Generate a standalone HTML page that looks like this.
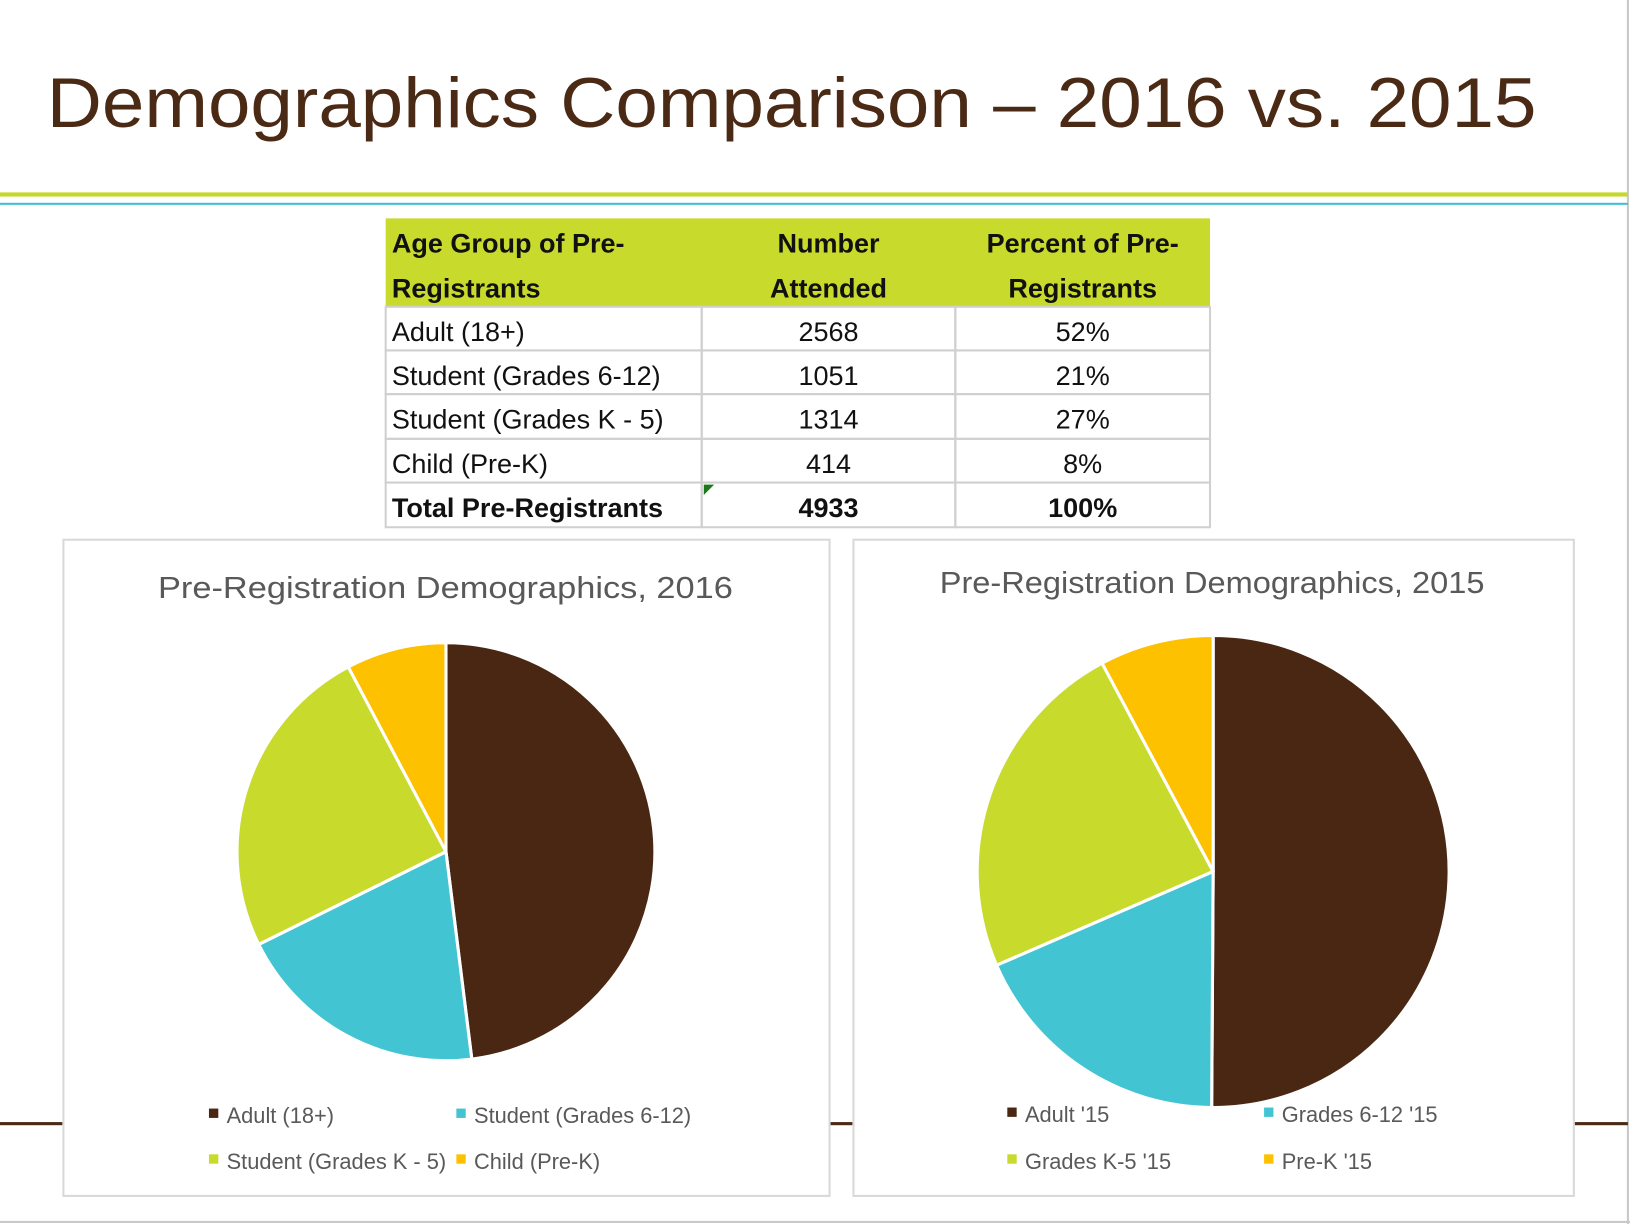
<!DOCTYPE html>
<html><head><meta charset="utf-8"><style>
html,body{margin:0;padding:0;background:#fff;width:1630px;height:1224px;overflow:hidden}
svg{display:block}
text{font-family:"Liberation Sans",sans-serif}
</style></head><body>
<svg id="page" width="1630" height="1224" viewBox="0 0 1568 1177" preserveAspectRatio="none" xmlns="http://www.w3.org/2000/svg">
<rect x="0" y="0" width="1568" height="1177" fill="#fff"/>
<line x1="1566" y1="0" x2="1566" y2="1177" stroke="#c8c8c8" stroke-width="2"/>
<line x1="0" y1="1175" x2="1568" y2="1175" stroke="#c8c8c8" stroke-width="2"/>
<text x="45" y="122" font-size="68" fill="#4a2a14" textLength="1433" lengthAdjust="spacingAndGlyphs">Demographics Comparison – 2016 vs. 2015</text>
<rect x="0" y="185" width="1566" height="4" fill="#c5d92d"/>
<rect x="0" y="195" width="1566" height="2" fill="#40bfd0"/>
<rect x="0" y="1079" width="60" height="3" fill="#4a2a14"/>
<rect x="798" y="1079" width="22" height="3" fill="#4a2a14"/>
<rect x="1514" y="1079" width="52" height="3" fill="#4a2a14"/>

<g id="table"></g>

<rect x="61" y="519" width="737" height="631" fill="#fff" stroke="#d9d9d9" stroke-width="2"/>
<rect x="821" y="519" width="693" height="631" fill="#fff" stroke="#d9d9d9" stroke-width="2"/>
<text x="152" y="575" font-size="29" fill="#595959" textLength="553" lengthAdjust="spacingAndGlyphs">Pre-Registration Demographics, 2016</text>
<text x="904" y="570" font-size="29" fill="#595959" textLength="524" lengthAdjust="spacingAndGlyphs">Pre-Registration Demographics, 2015</text>
<g id="pie2016"></g>
<g id="pie2015"></g>
<g id="leg2016"></g>
<g id="leg2015"></g>
</svg>
<script>
const colors = ["#4a2713", "#43c4d2", "#c8da2c", "#fdc100"];
const cats2016 = ["Adult (18+)", "Student (Grades 6-12)", "Student (Grades K - 5)", "Child (Pre-K)"];
const values2016 = [2568, 1051, 1314, 414];
const cats2015 = ["Adult '15", "Grades 6-12 '15", "Grades K-5 '15", "Pre-K '15"];
const values2015 = [50.1, 18.4, 23.7, 7.8];
const tableHeader = ["Age Group of Pre-|Registrants", "Number|Attended", "Percent of Pre-|Registrants"];
const tableRows = [["Adult (18+)", "2568", "52%"], ["Student (Grades 6-12)", "1051", "21%"], ["Student (Grades K - 5)", "1314", "27%"], ["Child (Pre-K)", "414", "8%"], ["Total Pre-Registrants", "4933", "100%"]];

const NS = "http://www.w3.org/2000/svg";
function mk(tag, attrs, parent){const e=document.createElementNS(NS,tag);for(const k in attrs)e.setAttribute(k,attrs[k]);parent.appendChild(e);return e;}

// table
const tg = document.getElementById('table');
const colX = [371, 675, 919, 1164];
const rowY = [295, 337, 379, 422, 464, 507];
const hdr = mk('rect',{x:371,y:210,width:793,height:85,fill:'#c8da2b'},tg);


tableHeader.forEach((h,i)=>{
  const lines=h.split('|');
  lines.forEach((ln,j)=>{
    const t=mk('text',{y:243+j*43,'font-size':26,'font-weight':'bold',fill:'#111'},tg);
    if(i===0){t.setAttribute('x',377);}else{t.setAttribute('x',(colX[i]+colX[i+1])/2);t.setAttribute('text-anchor','middle');}
    t.textContent=ln;
    
    
  });
});
tableRows.forEach((r,ri)=>{
  const y0=rowY[ri], y1=rowY[ri+1];
  r.forEach((c,ci)=>{
    const cell=mk('rect',{x:colX[ci],y:y0,width:colX[ci+1]-colX[ci],height:y1-y0,fill:'none',stroke:'#d0d0d0','stroke-width':2},tg);
    
    
    const t=mk('text',{y:y0+33,'font-size':26,fill:'#111'},tg);
    if(ri===4)t.setAttribute('font-weight','bold');
    if(ci===0){t.setAttribute('x',377);}else{t.setAttribute('x',(colX[ci]+colX[ci+1])/2);t.setAttribute('text-anchor','middle');}
    t.textContent=c;
    
    
  });
});
const tri=mk('polygon',{points:'677,466 687,466 677,476',fill:'#1a7a1a'},tg);



function pie(id, vals, cx, cy, r){
  const g=document.getElementById(id);
  const total=vals.reduce((a,b)=>a+b,0);
  let a0=0;
  vals.forEach((v,i)=>{
    const a1=a0+v/total*2*Math.PI;
    const x0=cx+r*Math.sin(a0), y0=cy-r*Math.cos(a0);
    const x1=cx+r*Math.sin(a1), y1=cy-r*Math.cos(a1);
    const large=(a1-a0)>Math.PI?1:0;
    const p=mk('path',{d:`M${cx},${cy} L${x0},${y0} A${r},${r} 0 ${large} 1 ${x1},${y1} Z`,fill:colors[i],stroke:'#fff','stroke-width':3,'stroke-linejoin':'round'},g);
    
    
    a0=a1;
  });
}
pie('pie2016', values2016, 429, 819, 201);
pie('pie2015', values2015, 1167, 838, 227);

function legend(id, cats, pos){
  const g=document.getElementById(id);
  cats.forEach((c,i)=>{
    const [x,y]=pos[i];
    const s=mk('rect',{x:x,y:y-14,width:9,height:9,fill:colors[i]},g);
    
    
    const t=mk('text',{x:x+17,y:y,'font-size':21,fill:'#595959'},g);
    t.textContent=c;
    
    
  });
}
legend('leg2016', cats2016, [[201,1080],[439,1080],[201,1124],[439,1124]]);
legend('leg2015', cats2015, [[969,1079],[1216,1079],[969,1124],[1216,1124]]);
</script>
</body></html>
